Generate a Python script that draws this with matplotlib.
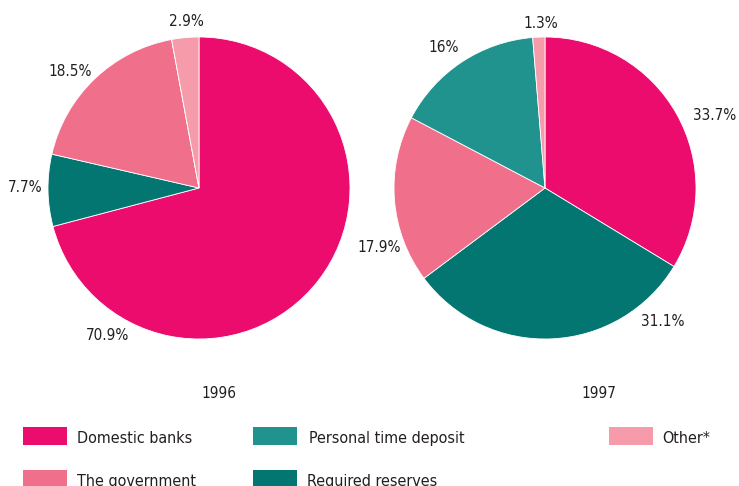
import matplotlib.pyplot as plt
from matplotlib.patches import Rectangle

plt.rcParams['font.family'] = ['DejaVu Sans']
plt.rcParams['font.stretch'] = 'condensed'

categories = ["Domestic banks", "Required reserves", "The government",
              "Personal time deposit", "Other*"]
colors = ["#EB0C6E", "#037672", "#F0708C", "#21938F", "#F59BA9"]

# shares in percent, clockwise from 12 o'clock
vals_1996 = [70.9, 7.7, 18.5, 0, 2.9]
vals_1997 = [33.7, 31.1, 17.9, 16, 1.3]
labels_1996 = ["70.9%", "7.7%", "18.5%", "", "2.9%"]
labels_1997 = ["33.7%", "31.1%", "17.9%", "16%", "1.3%"]

W, H = 739, 486
fig = plt.figure(figsize=(W / 100, H / 100), dpi=100)

def px(x, y):
    return x / W, 1 - y / H

def draw_pie(cx, cy, r, vals, labels, label_pos, year, year_pos):
    ax = fig.add_axes([(cx - r) / W, (H - cy - r) / H, 2 * r / W, 2 * r / H])
    ax.pie(vals, colors=colors, startangle=90, counterclock=False,
           wedgeprops=dict(edgecolor="white", linewidth=0.6))
    ax.set_xlim(-1, 1)
    ax.set_ylim(-1, 1)
    for lab, pos in zip(labels, label_pos):
        if lab:
            fig.text(*px(*pos), lab, ha="center", va="center",
                     fontsize=11, color="#231F20")
    fig.text(*px(*year_pos), year, ha="center", va="center",
             fontsize=11, color="#231F20")

draw_pie(199, 188, 151, vals_1996, labels_1996,
         [(108, 335), (25, 187), (70, 71), None, (186, 22)],
         "1996", (219, 393))
draw_pie(545, 188, 151, vals_1997, labels_1997,
         [(715, 116), (663, 322), (379, 247), (444, 47), (541, 24)],
         "1997", (599, 393))

# legend: (label, colour index, patch x, patch top y, text x)
legend_items = [("Domestic banks", 0, 23, 427, 77),
                ("The government", 2, 23, 470, 77),
                ("Personal time deposit", 3, 253, 427, 309),
                ("Required reserves", 1, 253, 470, 307),
                ("Other*", 4, 609, 427, 662)]
for name, ci, x, y, tx in legend_items:
    fig.add_artist(Rectangle(px(x, y + 18), 44 / W, 18 / H,
                             transform=fig.transFigure, facecolor=colors[ci],
                             edgecolor="none"))
    fig.text(*px(tx, y + 11), name, ha="left", va="center",
             fontsize=11.5, color="#231F20")

fig.savefig("out.png", dpi=100)
